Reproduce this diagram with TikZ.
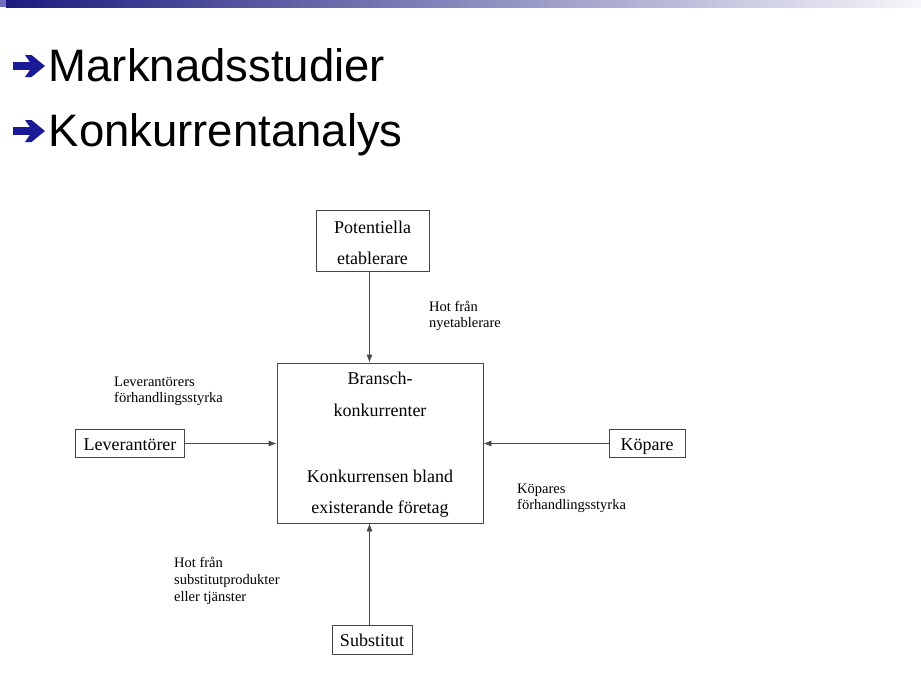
\documentclass[tikz,border=0pt]{standalone}
\usepackage{fontspec}
\setmainfont{Liberation Serif}
\newfontfamily\titlefont{Liberation Sans}
\usetikzlibrary{arrows.meta}
\definecolor{navy}{RGB}{28,28,128}
\definecolor{bulletblue}{RGB}{26,26,150}
\definecolor{linegray}{RGB}{70,70,70}
\begin{document}
\begin{tikzpicture}[x=1pt,y=-1pt,
  boxnode/.style={draw=linegray, line width=0.8pt, inner sep=0pt},
  boxtext/.style={anchor=base, inner sep=0pt, font=\fontsize{18}{22}\selectfont},
  smalltext/.style={anchor=base west, inner sep=0pt, font=\fontsize{14.5}{17}\selectfont},
  titletext/.style={anchor=base west, inner sep=0pt, font=\titlefont\fontsize{45.5}{54}\selectfont},
  arr/.style={draw=linegray, line width=0.8pt, -{Latex[length=8pt,width=6pt]}},
  bulletarrow/.style={fill=bulletblue}
]
\useasboundingbox (0,0) rectangle (921,691);
\fill[white] (0,0) rectangle (921,691);
% top bar
\fill[color={rgb,255:red,112;green,112;blue,190}] (0,0) rectangle (6,7);
\shade[left color=navy, right color=white!96!navy] (6,0) rectangle (921,7);

% title bullets
\foreach \yy in {66,131}{
  \fill[bulletblue] (13,\yy-3.8) -- (30,\yy-3.8) -- (25,\yy-11) -- (31.5,\yy-11) -- (45,\yy) -- (31.5,\yy+11) -- (25,\yy+11) -- (30,\yy+3.8) -- (13,\yy+3.8) -- cycle;
}
\node[titletext] (t1) at (48.5,81) {Marknadsstudier};
\node[titletext] (t2) at (48.5,146) {Konkurrentanalys};

% boxes
\node[boxnode, minimum width=113pt, minimum height=61pt] (pot) at (372.5,241) {};
\node[boxtext] (pot1) at (372.5,233) {Potentiella};
\node[boxtext] (pot2) at (372.5,264) {etablerare};

\node[boxnode, minimum width=206pt, minimum height=160pt] (core) at (380,443) {};
\node[boxtext] (c1) at (380,384) {Bransch-};
\node[boxtext] (c2) at (380,416) {konkurrenter};
\node[boxtext] (c3) at (380,482) {Konkurrensen bland};
\node[boxtext] (c4) at (380,513) {existerande företag};

\node[boxnode, minimum width=109pt, minimum height=28pt] (lev) at (130,443.5) {};
\node[boxtext] (levt) at (130,450) {Leverantörer};

\node[boxnode, minimum width=76pt, minimum height=28pt] (kop) at (647,443.5) {};
\node[boxtext] (kopt) at (647,450) {Köpare};

\node[boxnode, minimum width=80pt, minimum height=29pt] (sub) at (372,639.5) {};
\node[boxtext] (subt) at (372,646) {Substitut};

% labels
\node[smalltext] (h1) at (429,311) {Hot från};
\node[smalltext] (h2) at (429,327) {nyetablerare};
\node[smalltext] (l1) at (114,386) {Leverantörers};
\node[smalltext] (l2) at (114,402) {förhandlingsstyrka};
\node[smalltext] (k1) at (517,493) {Köpares};
\node[smalltext] (k2) at (517,509) {förhandlingsstyrka};
\node[smalltext] (s1) at (174,567) {Hot från};
\node[smalltext] (s2) at (174,584) {substitutprodukter};
\node[smalltext] (s3) at (174,601) {eller tjänster};

% connectors
\coordinate (topx) at (369.5,0);
\coordinate (botx) at (369.5,0);
\draw[arr] (topx |- pot.south) -- (topx |- core.north);
\draw[arr] (botx |- sub.north) -- (botx |- core.south);
\draw[arr] (lev.east) -- (lev.east -| core.west);
\draw[arr] (kop.west) -- (kop.west -| core.east);
\end{tikzpicture}
\end{document}
